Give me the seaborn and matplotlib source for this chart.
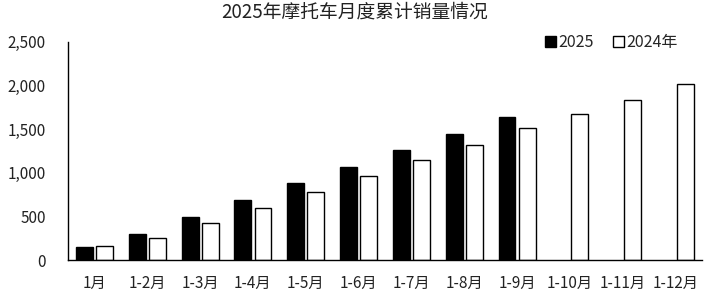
import matplotlib
matplotlib.use("Agg")
import matplotlib.pyplot as plt
import seaborn as sns
import pandas as pd
import numpy as np
from matplotlib.ticker import FuncFormatter
from matplotlib.patches import Patch

categories = ["1月", "1-2月", "1-3月", "1-4月", "1-5月", "1-6月",
              "1-7月", "1-8月", "1-9月", "1-10月", "1-11月", "1-12月"]
sales_2025 = [152, 294, 489, 690, 878, 1068, 1256, 1446, 1641, np.nan, np.nan, np.nan]
sales_2024 = [160, 248, 424, 592, 775, 962, 1145, 1313, 1508, 1672, 1829, 2012]
series_names = ["2025", "2024年"]
title = "2025年摩托车月度累计销量情况"

df = pd.DataFrame({
    "cat": categories * 2,
    "val": sales_2025 + sales_2024,
    "series": [series_names[0]] * len(categories) + [series_names[1]] * len(categories),
})

sns.set_theme(style="white")
plt.rcParams["font.family"] = ["Noto Sans CJK SC", "DejaVu Sans"]

fig = plt.figure(figsize=(7.09, 3.0), dpi=100)
ax = fig.add_axes([0.096, 0.1333, 0.894, 0.728])

sns.barplot(data=df, x="cat", y="val", hue="series", order=categories,
            hue_order=series_names, palette={"2025": "black", "2024年": "white"},
            edgecolor="black", linewidth=1.0, width=0.76, gap=0.16,
            legend=False, ax=ax)

ax.set_xlim(-0.5, 11.5)
ax.set_ylim(0, 2500)
ax.set_yticks([0, 500, 1000, 1500, 2000, 2500])
ax.yaxis.set_major_formatter(FuncFormatter(lambda v, p: f"{int(v):,}"))
ax.set_xlabel("")
ax.set_ylabel("")
for s in ["top", "right"]:
    ax.spines[s].set_visible(False)
for s in ["left", "bottom"]:
    ax.spines[s].set_color("black")
    ax.spines[s].set_linewidth(1.0)
ax.tick_params(axis="y", length=0, pad=16, labelsize=11, colors="#222222")
ax.tick_params(axis="x", length=0, pad=11, labelsize=11, colors="#222222")

fig.suptitle(title, y=0.995, fontsize=13.5, color="#222222")

handles = [Patch(facecolor="black", edgecolor="black", label=series_names[0]),
           Patch(facecolor="white", edgecolor="black", label=series_names[1])]
ax.legend(handles=handles, loc="upper right", bbox_to_anchor=(0.985, 1.10), ncol=2,
          frameon=False, handlelength=0.7, handleheight=0.7, handletextpad=0.15,
          columnspacing=1.2, fontsize=11.5)

fig.savefig("out.png", dpi=100)
